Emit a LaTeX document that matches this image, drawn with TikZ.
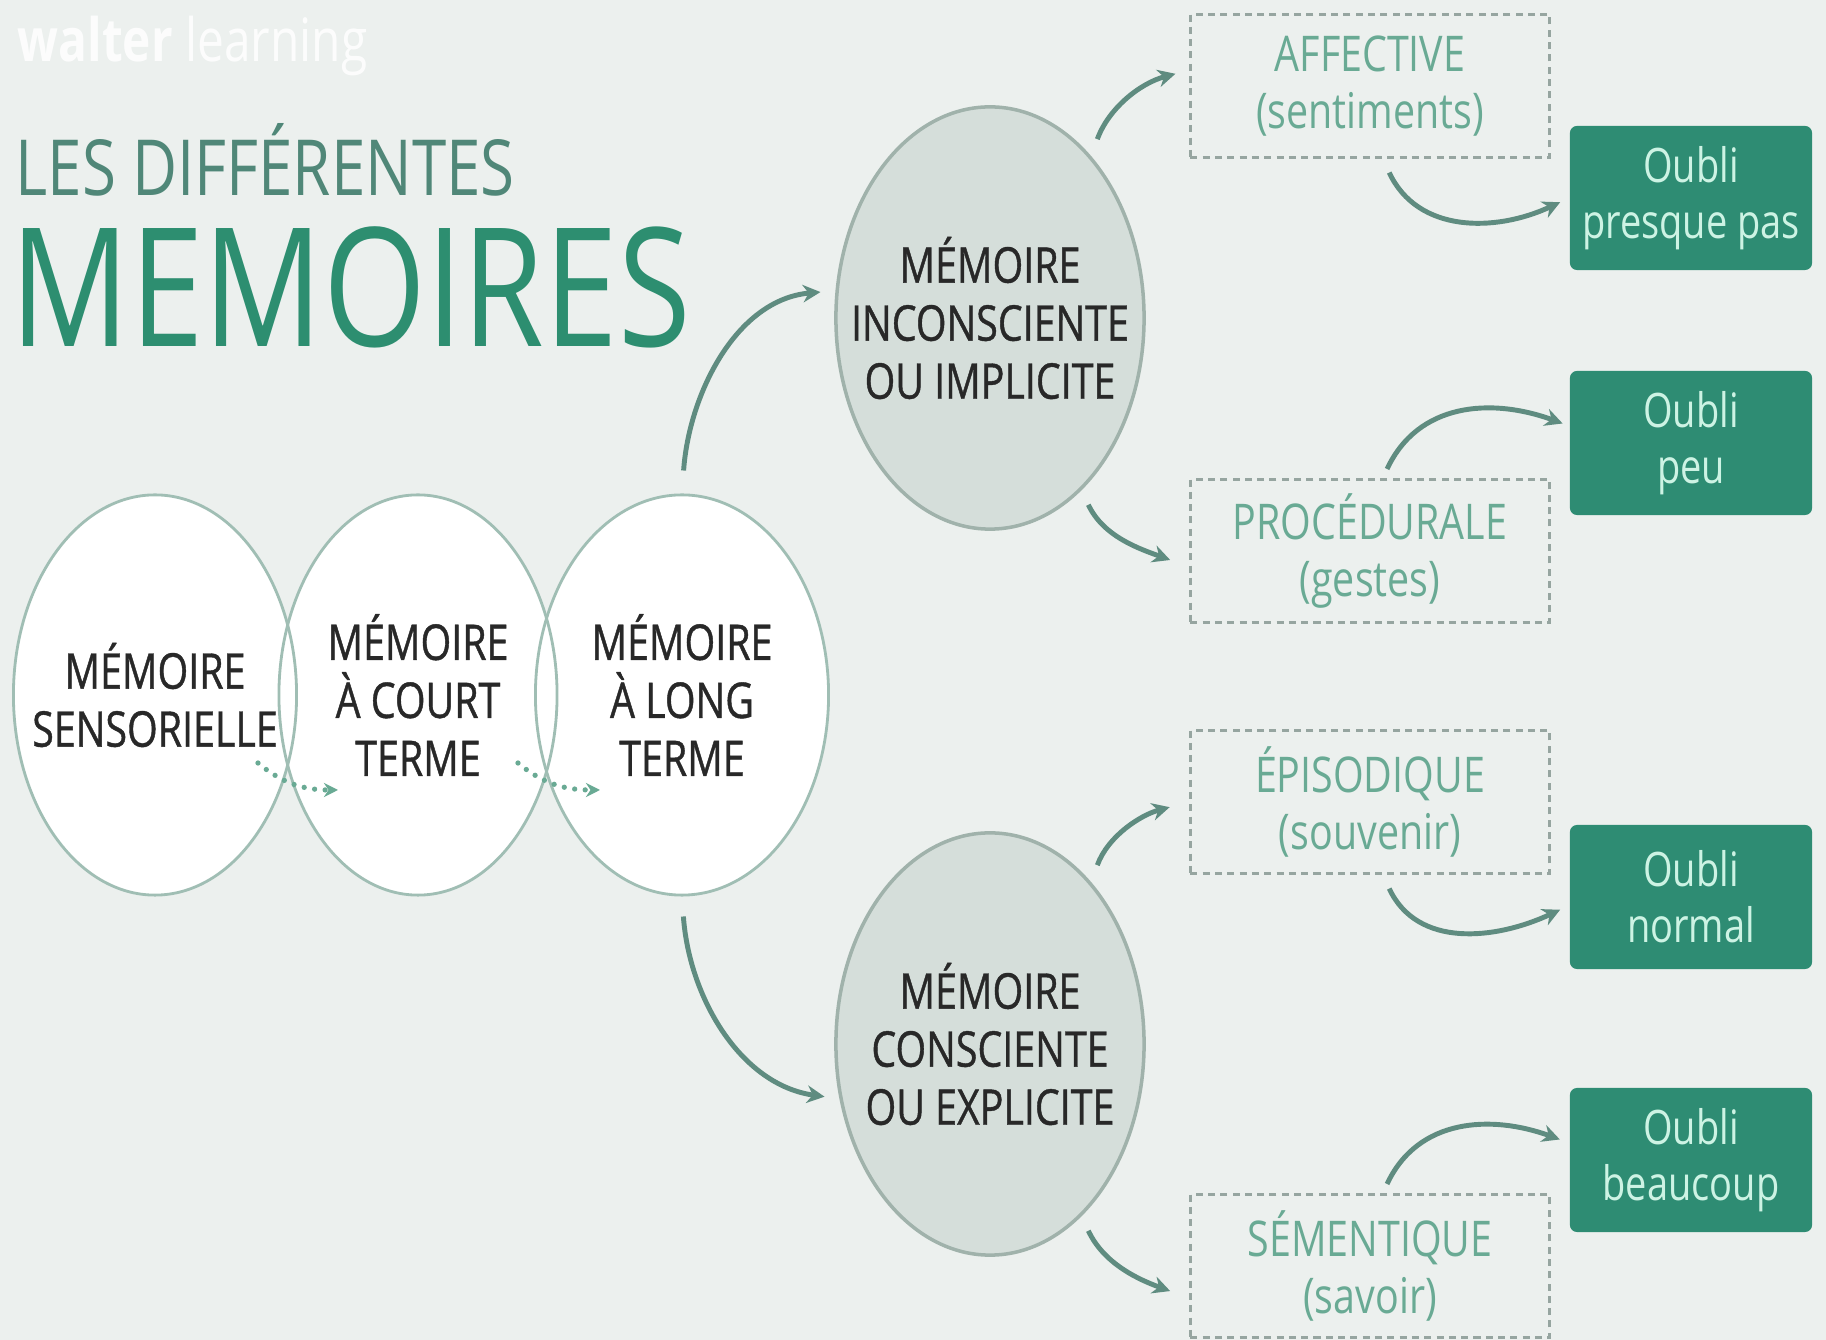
\documentclass[tikz,border=0pt]{standalone}
\usepackage{fontspec}
\setmainfont{Open Sans}[FakeStretch=0.8]
\newfontfamily\ringfont{Open Sans}[FakeStretch=0.8, FakeBold=0.8]
\usepackage{tikz}
\usetikzlibrary{shapes.geometric, arrows.meta, positioning}
\definecolor{bggrey}{RGB}{236, 240, 238}
\definecolor{ringgrey}{RGB}{160, 190, 180}
\definecolor{implfill}{RGB}{213, 222, 218}
\definecolor{implline}{RGB}{160, 178, 171}
\definecolor{dashgrey}{RGB}{150, 165, 160}
\definecolor{kindteal}{RGB}{105, 170, 148}
\definecolor{oubligreen}{RGB}{46, 140, 115}
\definecolor{oublimint}{RGB}{205, 243, 228}
\definecolor{linkgrey}{RGB}{95, 140, 128}
\definecolor{titlegrey}{RGB}{80, 135, 120}
\definecolor{titlegreen}{RGB}{45, 142, 112}
\definecolor{textdark}{RGB}{40, 40, 40}

\begin{document}
\begin{tikzpicture}[x=0.01cm, y=0.01cm,
  ring/.style={ellipse, draw=ringgrey, line width=0.8pt, inner xsep=-14pt, inner ysep=0pt,
    minimum height=4cm, align=center, text=textdark, font=\ringfont\fontsize{14}{16.5}\selectfont},
  bigring/.style={ellipse, draw=implline, fill=implfill, line width=1pt, inner xsep=-14pt,
    inner ysep=0pt, minimum width=3.08cm, minimum height=4.22cm, align=center, text=textdark,
    font=\ringfont\fontsize{14}{16.5}\selectfont},
  kindbox/.style={rectangle, draw=dashgrey, dash pattern=on 2pt off 1.5pt, line width=0.8pt,
    minimum width=3.59cm, minimum height=1.43cm, align=center, text=kindteal,
    font=\fontsize{14}{16}\selectfont},
  oublibox/.style={rectangle, rounded corners=2pt, fill=oubligreen, minimum width=2.42cm,
    minimum height=1.44cm, align=center, text=oublimint, font=\fontsize{13.5}{16}\selectfont},
  link/.style={draw=linkgrey, line width=1.4pt, -{Stealth[length=5pt, width=5pt]}},
  dotlink/.style={draw=kindteal, line width=1.5pt, dash pattern=on 0pt off 3pt, line cap=round,
    -{Stealth[length=4pt, width=4pt]}}
]
  % background
  \fill[bggrey] (0,0) rectangle (1826,-1340);
  \useasboundingbox (0,0) rectangle (1826,-1340);

  % logo and title
  \node[anchor=base west, inner sep=0pt, text=white, text opacity=0.85, font=\fontsize{17}{17}\selectfont] (brand) at (17,-62) {\textbf{walter} learning};
  \node[anchor=base west, inner sep=0pt, text=titlegrey, font=\fontsize{22}{22}\selectfont] (les) at (15,-196) {LES DIFFÉRENTES};
  \node[anchor=base west, inner sep=0pt, text=titlegreen, font=\fontsize{47}{47}\selectfont] (mem) at (10,-347) {MEMOIRES};

  % three white circles
  \foreach \cx/\rx in {155/141, 418/139, 682/146}
    \fill[white] (\cx,-695) ellipse [x radius=\rx, y radius=200];
  \node[ring, minimum width=2.83cm] (sens) at (155,-695) {MÉMOIRE\\SENSORIELLE};
  \node[ring, minimum width=2.78cm] (court) at (418,-695) {MÉMOIRE\\À COURT\\TERME};
  \node[ring, minimum width=2.93cm] (long) at (682,-695) {MÉMOIRE\\À LONG\\TERME};

  % implicit / explicit
  \node[bigring] (impl) at (990,-318) {MÉMOIRE\\INCONSCIENTE\\OU IMPLICITE};
  \node[bigring] (expl) at (990,-1044) {MÉMOIRE\\CONSCIENTE\\OU EXPLICITE};

  % kinds
  \node[kindbox] (aff) at (1370,-86) {AFFECTIVE\\(sentiments)};
  \node[kindbox] (proc) at (1370,-551) {PROCÉDURALE\\(gestes)};
  \node[kindbox] (epi) at (1370,-802) {ÉPISODIQUE\\(souvenir)};
  \node[kindbox] (sem) at (1370,-1266) {SÉMENTIQUE\\(savoir)};

  % forgetting
  \node[oublibox] (ob1) at (1691,-198) {Oubli\\presque pas};
  \node[oublibox] (ob2) at (1691,-443) {Oubli\\peu};
  \node[oublibox] (ob3) at (1691,-897) {Oubli\\normal};
  \node[oublibox] (ob4) at (1691,-1160) {Oubli\\beaucoup};

  % connectors
  \draw[dotlink] ([shift={(103,-68)}]sens.center) to[out=-40, in=180] ([shift={(-80,-95)}]court.center);
  \draw[dotlink] ([shift={(100,-68)}]court.center) to[out=-40, in=180] ([shift={(-82,-95)}]long.center);

  \draw[link, shorten <=0.23cm, shorten >=0.15cm] (long.north) to[out=86, in=185] (impl.170);
  \draw[link, shorten <=0.2cm, shorten >=0.15cm] (long.south) to[out=-86, in=172] (expl.200);

  \draw[link, shorten <=0.18cm, shorten >=0.14cm] (impl.58) to[out=70, in=195] (aff.175);
  \draw[link, shorten <=0.16cm, shorten >=0.2cm] (impl.-62) to[out=-65, in=160] (proc.185);
  \draw[link, shorten <=0.18cm, shorten >=0.2cm] (expl.58) to[out=70, in=195] (epi.180);
  \draw[link, shorten <=0.16cm, shorten >=0.2cm] (expl.-62) to[out=-65, in=160] (sem.190);

  \draw[link, shorten <=0.15cm, shorten >=0.1cm] (aff.-80) to[out=-65, in=205, looseness=1.1] (ob1.west);
  \draw[link, shorten <=0.1cm, shorten >=0.07cm] (proc.80) to[out=65, in=160, looseness=1.1] (ob2.172);
  \draw[link, shorten <=0.15cm, shorten >=0.1cm] (epi.-80) to[out=-65, in=205, looseness=1.1] (ob3.184);
  \draw[link, shorten <=0.1cm, shorten >=0.1cm] (sem.80) to[out=65, in=160, looseness=1.1] (ob4.172);
\end{tikzpicture}
\end{document}
